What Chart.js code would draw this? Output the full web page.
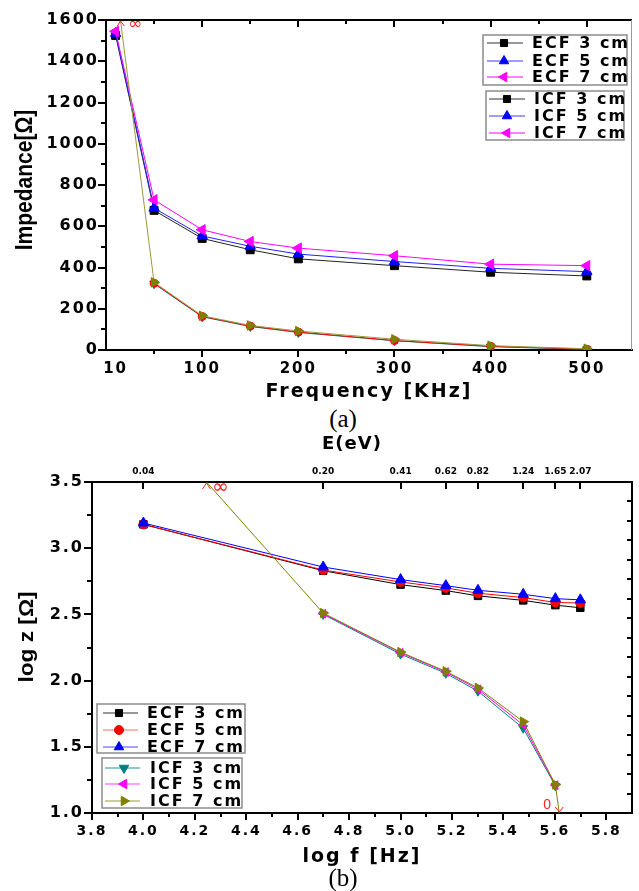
<!DOCTYPE html>
<html><head><meta charset="utf-8">
<script src="https://cdn.jsdelivr.net/npm/chart.js@4.4.1/dist/chart.umd.min.js"></script>
<style>
html,body{margin:0;padding:0;background:#fff;}
body{width:639px;height:891px;position:relative;overflow:hidden;}
canvas{position:absolute;left:0;}
.cap{position:absolute;font-family:"Liberation Serif",serif;font-size:25px;line-height:26px;width:60px;text-align:center;color:#000;}
</style></head>
<body>
<canvas id="ca" width="639" height="404" style="top:0"></canvas>
<div class="cap" style="left:313px;top:406px">(a)</div>
<canvas id="cb" width="639" height="461" style="top:430px"></canvas>
<div class="cap" style="left:313px;top:865px">(b)</div>
<script>
// ---------- data (a) ----------
const seriesLabels = ['ECF 3 cm','ECF 5 cm','ECF 7 cm','ICF 3 cm','ICF 5 cm','ICF 7 cm'];
const freqA = [10, 50, 100, 150, 200, 300, 400, 500];
const ecf3A = [1525, 677, 541, 486, 442, 409, 377, 359];
const ecf5A = [1535, 688, 553, 503, 465, 429, 396, 380];
const ecf7A = [1545, 728, 583, 526, 494, 457, 416, 409];
const freqIcfA = [50, 100, 150, 200, 300, 400, 500];
const icf3A = [321, 161, 114, 85, 45, 16, 3];
const icf5A = [324, 163, 116, 87, 46, 18, 4];
const icf7A = [328, 166, 119, 92, 52, 21, 6];
const icfInfFreqA = 15, icfInfZA = 1600;
const xLabelsA = [10, 100, 200, 300, 400, 500];
const xMajorA = [100, 200, 300, 400, 500];
const xMinorA = [50, 150, 250, 350, 450];
const yLabelsA = [0, 200, 400, 600, 800, 1000, 1200, 1400, 1600];
const yMinorA = [100, 300, 500, 700, 900, 1100, 1300, 1500];

// ---------- data (b) ----------
const logF = [4.0, 4.699, 5.0, 5.176, 5.301, 5.477, 5.602, 5.699];
const ecf3B = [3.18, 2.83, 2.725, 2.68, 2.64, 2.606, 2.57, 2.55];
const ecf5B = [3.18, 2.835, 2.745, 2.70, 2.66, 2.627, 2.59, 2.586];
const ecf7B = [3.19, 2.858, 2.763, 2.717, 2.682, 2.652, 2.619, 2.61];
const logFIcf = [4.699, 5.0, 5.176, 5.301, 5.477, 5.602];
const icf3B = [2.50, 2.20, 2.055, 1.92, 1.64, 1.205];
const icf5B = [2.505, 2.21, 2.065, 1.935, 1.665, 1.21];
const icf7B = [2.51, 2.215, 2.07, 1.945, 1.69, 1.215];
const icfInfB = [4.245, 3.5];
const icfZeroB = [5.617, 1.0];
const eLabels = ['0.04','0.20','0.41','0.62','0.82','1.24','1.65','2.07'];
const xLabelsB = [3.8, 4.0, 4.2, 4.4, 4.6, 4.8, 5.0, 5.2, 5.4, 5.6, 5.8];
const xMinorB = [3.9, 4.1, 4.3, 4.5, 4.7, 4.9, 5.1, 5.3, 5.5, 5.7];
const yLabelsB = [1.0, 1.5, 2.0, 2.5, 3.0, 3.5];
const yMinorB = [1.25, 1.75, 2.25, 2.75, 3.25];
const rightTicksB = [1,2,3,4,5,6,7,8,9,10,11,12,13,14,15,16];

// ---------- helpers ----------
const FAM = "'DejaVu Sans', sans-serif";
const pts = (xs, ys) => xs.map((x, i) => ({x, y: ys[i]}));
const spacingPlugin = {
  id: 'spacing',
  beforeLayout(chart) { chart.ctx.letterSpacing = '2px'; },
  beforeDraw(chart) { chart.ctx.letterSpacing = '2px'; }
};
function ticks(ctx, area, scale, vals, len, side) {
  ctx.beginPath();
  vals.forEach(v => {
    const p = Math.round(scale.getPixelForValue(v));
    if (side === 'bottom') { ctx.moveTo(p, area.bottom); ctx.lineTo(p, area.bottom + len); }
    else if (side === 'top') { ctx.moveTo(p, area.top); ctx.lineTo(p, area.top + len); }
    else if (side === 'left') { ctx.moveTo(area.left, p); ctx.lineTo(area.left - len, p); }
    else { ctx.moveTo(area.right, p); ctx.lineTo(area.right - len, p); }
  });
  ctx.stroke();
}
function legendBox(ctx, b, rows) {
  ctx.save();
  ctx.strokeStyle = '#8c8c8c'; ctx.lineWidth = 1.5;
  ctx.strokeRect(b.x0, b.y0, b.x1 - b.x0, b.y1 - b.y0);
  rows.forEach((r, i) => {
    const y = b.ys[i];
    ctx.strokeStyle = r.line; ctx.lineWidth = 1.2;
    ctx.beginPath(); ctx.moveTo(b.sx0, y); ctx.lineTo(b.sx1, y); ctx.stroke();
    ctx.fillStyle = r.color; ctx.strokeStyle = r.color; ctx.lineWidth = 1;
    Chart.helpers.drawPoint(ctx, {pointStyle: r.style, radius: r.radius, rotation: r.rot || 0, borderWidth: 1}, b.mx, y);
    ctx.fillStyle = '#000'; ctx.font = 'bold 16px ' + FAM; ctx.letterSpacing = '2px';
    ctx.textAlign = 'left'; ctx.textBaseline = 'middle';
    ctx.fillText(r.label, b.tx, y + 1);
  });
  ctx.restore();
}
function vTitle(ctx, text, x, y, size, sx) {
  ctx.save();
  ctx.translate(x, y); ctx.rotate(-Math.PI / 2); ctx.scale(sx, 1);
  ctx.font = 'bold ' + size + 'px "Liberation Sans", Arial, sans-serif';
  ctx.letterSpacing = '0px'; ctx.fillStyle = '#000';
  ctx.textAlign = 'center'; ctx.textBaseline = 'alphabetic';
  ctx.fillText(text, 0, 0);
  ctx.restore();
}
function ds(label, data, color, line, style, radius, rot) {
  return {label, data, borderColor: line, backgroundColor: color, pointBackgroundColor: color, pointBorderColor: color,
    borderWidth: 1, pointStyle: style, pointRadius: radius, pointRotation: rot || 0, pointBorderWidth: 1, tension: 0, xAxisID: 'x', yAxisID: 'y'};
}
const tickFont = s => ({family: FAM, size: s, weight: 'bold'});
Chart.defaults.color = '#000';

// ---------- chart (a) ----------
const decoA = {
  id: 'decoA',
  afterDraw(chart) {
    const {ctx, chartArea: a, scales: {x, y}} = chart;
    ctx.save();
    ctx.strokeStyle = '#000'; ctx.lineWidth = 2;
    ctx.beginPath(); ctx.moveTo(a.left, a.top); ctx.lineTo(a.right, a.top); ctx.stroke();
    ctx.strokeStyle = '#9a9a9a'; ctx.lineWidth = 1;
    ctx.beginPath(); ctx.moveTo(a.right - 0.5, a.top); ctx.lineTo(a.right - 0.5, a.bottom); ctx.stroke();
    ctx.strokeStyle = '#000'; ctx.lineWidth = 2;
    ticks(ctx, a, x, xMajorA, 7, 'bottom'); ticks(ctx, a, x, xMinorA, 4, 'bottom');
    ticks(ctx, a, x, xMajorA, 7, 'top'); ticks(ctx, a, x, xMinorA, 4, 'top');
    ticks(ctx, a, y, yLabelsA, 8, 'left'); ticks(ctx, a, y, yMinorA, 5, 'left');
    // infinity marker
    const px = x.getPixelForValue(icfInfFreqA), py = y.getPixelForValue(icfInfZA);
    ctx.strokeStyle = '#ff2020'; ctx.lineWidth = 1;
    ctx.beginPath(); ctx.moveTo(px - 3, py + 6); ctx.lineTo(px, py + 1); ctx.lineTo(px + 4, py + 6); ctx.stroke();
    ctx.fillStyle = '#ff2020'; ctx.font = '17px ' + FAM; ctx.letterSpacing = '0px';
    ctx.textAlign = 'center'; ctx.textBaseline = 'middle';
    ctx.fillText('∞', px + 15, py + 5);
    vTitle(ctx, 'Impedance[Ω]', 32, 180, 24, 0.876);
    ctx.restore();
    legendBox(ctx, {x0: 483, y0: 35, x1: 627, y1: 85, sx0: 487, sx1: 523, mx: 504, tx: 532, ys: [43, 61, 77]}, [
      {label: seriesLabels[0], line: '#333', color: '#000', style: 'rect', radius: 5},
      {label: seriesLabels[1], line: '#3c3cff', color: '#0000ff', style: 'triangle', radius: 5.5},
      {label: seriesLabels[2], line: '#ff00ff', color: '#ff00ff', style: 'triangle', radius: 5.5, rot: -90}]);
    legendBox(ctx, {x0: 486, y0: 91, x1: 624, y1: 140, sx0: 489, sx1: 525, mx: 507, tx: 534, ys: [99, 116, 133]}, [
      {label: seriesLabels[3], line: '#333', color: '#000', style: 'rect', radius: 5},
      {label: seriesLabels[4], line: '#3c3cff', color: '#0000ff', style: 'triangle', radius: 5.5},
      {label: seriesLabels[5], line: '#ff00ff', color: '#ff00ff', style: 'triangle', radius: 5.5, rot: -90}]);
  }
};
new Chart(document.getElementById('ca'), {
  type: 'line',
  data: {datasets: [
    ds(seriesLabels[5], [{x: icfInfFreqA, y: icfInfZA}, ...pts(freqIcfA, icf7A)], '#808000', '#9a9a3a', 'triangle', [0, 5.5, 5.5, 5.5, 5.5, 5.5, 5.5, 5.5], 90),
    ds(seriesLabels[4], pts(freqIcfA, icf5A), '#ff0000', '#ff0000', 'circle', 4),
    ds(seriesLabels[3], pts(freqIcfA, icf3A), '#008080', '#008080', 'triangle', 5, 180),
    ds(seriesLabels[2], pts(freqA, ecf7A), '#ff00ff', '#ff00ff', 'triangle', 6, -90),
    ds(seriesLabels[1], pts(freqA, ecf5A), '#0000ff', '#2020ff', 'triangle', 6),
    ds(seriesLabels[0], pts(freqA, ecf3A), '#000', '#222', 'rect', 5.6)
  ]},
  options: {
    responsive: false, animation: false,
    layout: {padding: {top: 20, right: 2, left: 0, bottom: 0}},
    plugins: {legend: {display: false}, tooltip: {enabled: false}},
    scales: {
      x: {type: 'linear', min: 0, max: 547,
        afterBuildTicks: s => { s.ticks = xLabelsA.map(v => ({value: v})); },
        afterFit: s => { s.height = 54; },
        ticks: {font: tickFont(15), color: '#000', padding: 10, autoSkip: false, maxRotation: 0, callback: v => String(v)},
        grid: {display: false, drawTicks: false}, border: {color: '#000', width: 2},
        title: {display: true, text: 'Frequency [KHz]', font: tickFont(19), color: '#000', padding: {top: 0, bottom: 1}}},
      y: {type: 'linear', min: 0, max: 1600,
        afterBuildTicks: s => { s.ticks = yLabelsA.map(v => ({value: v})); },
        afterFit: s => { s.width = 106; },
        ticks: {font: tickFont(16), color: '#000', padding: 7, autoSkip: false, callback: v => String(v)},
        grid: {display: false, drawTicks: false}, border: {color: '#000', width: 2}}
    }
  },
  plugins: [spacingPlugin, decoA]
});

// ---------- chart (b) ----------
const decoB = {
  id: 'decoB',
  afterDraw(chart) {
    const {ctx, chartArea: a, scales: {x, y, yRight}} = chart;
    ctx.save();
    ctx.strokeStyle = '#000'; ctx.lineWidth = 2;
    ticks(ctx, a, x, xLabelsB, 7, 'bottom'); ticks(ctx, a, x, xMinorB, 4, 'bottom');
    ticks(ctx, a, y, yLabelsB, 8, 'left'); ticks(ctx, a, y, yMinorB, 5, 'left');
    ticks(ctx, a, x, logF, 7, 'top');
    ticks(ctx, a, yRight, rightTicksB, 5, 'right');
    // energy labels on top axis
    ctx.fillStyle = '#000'; ctx.font = 'bold 9px ' + FAM; ctx.letterSpacing = '0px';
    ctx.textAlign = 'center'; ctx.textBaseline = 'middle';
    logF.forEach((v, i) => ctx.fillText(eLabels[i], x.getPixelForValue(v), a.top - 10));
    ctx.font = 'bold 18px ' + FAM; ctx.letterSpacing = '1px';
    ctx.fillText('E(eV)', 352, 14);
    // infinity and zero markers
    const ix = x.getPixelForValue(icfInfB[0]), iy = y.getPixelForValue(icfInfB[1]);
    const zx = x.getPixelForValue(icfZeroB[0]), zy = y.getPixelForValue(icfZeroB[1]);
    ctx.strokeStyle = '#ff2020'; ctx.lineWidth = 1;
    ctx.beginPath(); ctx.moveTo(ix - 4, iy + 7); ctx.lineTo(ix, iy + 1); ctx.lineTo(ix + 4, iy + 7); ctx.stroke();
    ctx.beginPath(); ctx.moveTo(zx - 4, zy - 6); ctx.lineTo(zx, zy - 1); ctx.lineTo(zx + 4, zy - 6); ctx.stroke();
    ctx.fillStyle = '#ff2020'; ctx.letterSpacing = '0px';
    ctx.font = '20px ' + FAM; ctx.fillText('∞', ix + 14, iy + 6);
    ctx.font = '14px "Liberation Sans", Arial, sans-serif'; ctx.fillText('0', zx - 12, zy - 8);
    vTitle(ctx, 'log z [Ω]', 33, 207, 21, 1.08);
    ctx.restore();
    legendBox(ctx, {x0: 97, y0: 274, x1: 245, y1: 323, sx0: 103, sx1: 138, mx: 119, tx: 147, ys: [283, 300, 317]}, [
      {label: seriesLabels[0], line: '#333', color: '#000', style: 'rect', radius: 5},
      {label: seriesLabels[1], line: '#ff6a6a', color: '#ff0000', style: 'circle', radius: 4.5},
      {label: seriesLabels[2], line: '#4a4aff', color: '#0000ff', style: 'triangle', radius: 5.5}]);
    legendBox(ctx, {x0: 102, y0: 328, x1: 242, y1: 378, sx0: 105, sx1: 140, mx: 124, tx: 150, ys: [338, 354, 371]}, [
      {label: seriesLabels[3], line: '#2a9090', color: '#008080', style: 'triangle', radius: 5.5, rot: 180},
      {label: seriesLabels[4], line: '#ff40ff', color: '#ff00ff', style: 'triangle', radius: 5.5, rot: -90},
      {label: seriesLabels[5], line: '#9a9a3a', color: '#808000', style: 'triangle', radius: 5.5, rot: 90}]);
  }
};
new Chart(document.getElementById('cb'), {
  type: 'line',
  data: {datasets: [
    ds(seriesLabels[5], [{x: icfInfB[0], y: icfInfB[1]}, ...pts(logFIcf, icf7B), {x: icfZeroB[0], y: icfZeroB[1]}], '#808000', '#808000', 'triangle', [0, 5.5, 5.5, 5.5, 5.5, 5.5, 5.5, 0], 90),
    ds(seriesLabels[4], pts(logFIcf, icf5B), '#ff00ff', '#ff00ff', 'triangle', 5, -90),
    ds(seriesLabels[3], pts(logFIcf, icf3B), '#008080', '#008080', 'triangle', 5, 180),
    ds(seriesLabels[2], pts(logF, ecf7B), '#0000ff', '#0000ff', 'triangle', 6),
    ds(seriesLabels[1], pts(logF, ecf5B), '#ff0000', '#ff0000', 'circle', 4.5),
    ds(seriesLabels[0], pts(logF, ecf3B), '#000', '#000', 'rect', 5.3)
  ]},
  options: {
    responsive: false, animation: false,
    layout: {padding: 0},
    plugins: {legend: {display: false}, tooltip: {enabled: false}},
    scales: {
      x: {type: 'linear', position: 'bottom', min: 3.8, max: 5.9,
        afterBuildTicks: s => { s.ticks = xLabelsB.map(v => ({value: v})); },
        afterFit: s => { s.height = 78; },
        ticks: {font: tickFont(14), color: '#000', padding: 10, autoSkip: false, maxRotation: 0, callback: v => v.toFixed(1)},
        grid: {display: false, drawTicks: false}, border: {color: '#000', width: 2},
        title: {display: true, text: 'log f [Hz]', font: tickFont(19), color: '#000', padding: {top: 0, bottom: 23}}},
      xTop: {type: 'linear', position: 'top', min: 3.8, max: 5.9,
        afterFit: s => { s.height = 52; },
        ticks: {display: false}, grid: {display: false, drawTicks: false}, border: {color: '#000', width: 2}},
      y: {type: 'linear', position: 'left', min: 1, max: 3.5,
        afterBuildTicks: s => { s.ticks = yLabelsB.map(v => ({value: v})); },
        afterFit: s => { s.width = 92; },
        ticks: {font: tickFont(16), color: '#000', padding: 8, autoSkip: false, callback: v => v.toFixed(1)},
        grid: {display: false, drawTicks: false}, border: {color: '#000', width: 2}},
      yRight: {type: 'linear', position: 'right', min: 0, max: 17,
        afterFit: s => { s.width = 4; },
        ticks: {display: false}, grid: {display: false, drawTicks: false}, border: {color: '#000', width: 2}}
    }
  },
  plugins: [spacingPlugin, decoB]
});
</script>
</body></html>
